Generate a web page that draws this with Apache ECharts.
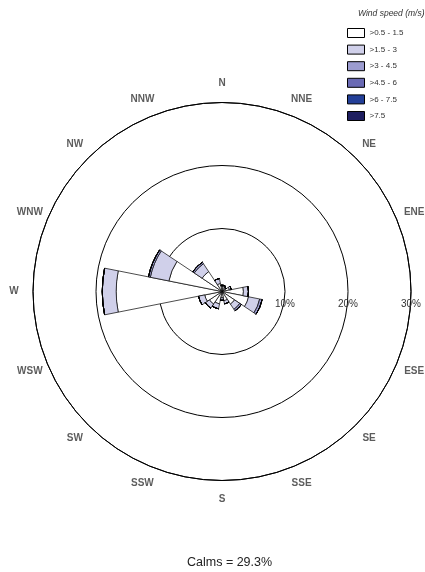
<!DOCTYPE html>
<html>
<head>
<meta charset="utf-8">
<script src="https://cdn.jsdelivr.net/npm/echarts@6/dist/echarts.min.js"></script>
<style>html,body{margin:0;padding:0;background:#fff}#c{width:425px;height:572px}</style>
</head>
<body>
<div id="c"></div>
<script>
const directions = ['N','NNE','NE','ENE','E','ESE','SE','SSE','S','SSW','SW','WSW','W','WNW','NW','NNW'];
const binNames = ['>0.5 - 1.5','>1.5 - 3','>3 - 4.5','>4.5 - 6','>6 - 7.5','>7.5'];
const binColors = ['#ffffff','#d0d0ea','#9c9cd0','#6a6ab4','#233f98','#1e1e60'];
// frequency (%) per direction for each wind-speed bin
const bin1 = [0.8, 0.8, 0.6, 1.2, 3.4, 4.3, 2.4, 1.5, 1.0, 2.0, 2.4, 2.8, 16.8, 8.6, 3.8, 1.3];
const bin2 = [0.2, 0.2, 0.2, 0.3, 0.8, 1.8, 1.0, 0.5, 0.4, 0.8, 0.8, 1.0, 2.2, 3.0, 1.5, 0.8];
const bin3 = [0, 0, 0, 0, 0, 0.4, 0.3, 0, 0, 0, 0, 0, 0, 0.3, 0.3, 0];
const bin4 = [0, 0, 0, 0, 0, 0, 0, 0, 0, 0, 0, 0, 0, 0, 0, 0];
const bin5 = [0, 0, 0, 0, 0, 0, 0, 0, 0, 0, 0, 0, 0, 0, 0, 0];
const bin6 = [0, 0, 0, 0, 0, 0, 0, 0, 0, 0, 0, 0, 0, 0, 0, 0];
const radiusTicks = [0, 10, 20, 30];
const calmsText = 'Calms = 29.3%';
const legendTitle = 'Wind speed (m/s)';

const bins = [bin1, bin2, bin3, bin4, bin5, bin6];
const center = [222, 291.5];
const radius = 189;
const labelRadius = 208;

const chart = echarts.init(document.getElementById('c'), null, {renderer: 'canvas'});
const series = bins.map((d, i) => ({
  type: 'bar',
  name: binNames[i],
  coordinateSystem: 'polar',
  polarIndex: 0,
  stack: 'wind',
  data: d,
  barCategoryGap: '0%',
  itemStyle: {color: binColors[i], borderColor: '#000', borderWidth: 0.7},
  emphasis: {disabled: true},
  animation: false
}));
// direction labels, centred on a ring just outside the outer circle
series.push({
  type: 'scatter',
  name: 'directions',
  coordinateSystem: 'polar',
  polarIndex: 2,
  symbolSize: 0,
  silent: true,
  data: directions.map(d => ({name: d, value: [1, d]})),
  label: {show: true, position: 'inside', formatter: '{b}', align: 'center', verticalAlign: 'middle',
    fontSize: 10, fontWeight: 'bold', color: '#333', fontFamily: 'Liberation Sans'},
  animation: false
});

chart.setOption({
  animation: false,
  backgroundColor: '#fff',
  title: [
    {text: legendTitle, left: 358, top: 9, padding: 0, textStyle: {fontSize: 8.5, fontStyle: 'italic', fontWeight: 'normal', color: '#333', fontFamily: 'Liberation Sans'}},
    {text: calmsText, left: 187, top: 556, padding: 0, textStyle: {fontSize: 12.5, fontWeight: 'normal', color: '#222', fontFamily: 'Liberation Sans'}}
  ],
  legend: {
    orient: 'vertical', left: 347, top: 28, padding: 0,
    itemWidth: 17, itemHeight: 9, itemGap: 6.6,
    icon: 'rect',
    itemStyle: {borderColor: '#000', borderWidth: 1},
    textStyle: {fontSize: 8, lineHeight: 9, color: '#333', fontFamily: 'Liberation Sans'},
    selectedMode: false,
    data: binNames
  },
  polar: [
    {center: center, radius: radius},
    {center: center, radius: radius},
    {center: center, radius: labelRadius}
  ],
  angleAxis: [
    {
      polarIndex: 0, type: 'category', data: directions, startAngle: 101.25, clockwise: true,
      boundaryGap: true,
      axisLine: {show: true, lineStyle: {color: '#000', width: 1}},
      axisTick: {show: false}, splitLine: {show: false}, axisLabel: {show: false}
    },
    {polarIndex: 1, type: 'value', startAngle: 0, min: 0, max: 360, show: false},
    {polarIndex: 2, type: 'category', data: directions, startAngle: 101.25, clockwise: true, boundaryGap: true, show: false}
  ],
  radiusAxis: [
    {
      polarIndex: 0, type: 'value', min: radiusTicks[0], max: radiusTicks[radiusTicks.length - 1], interval: 10,
      axisLine: {show: false}, axisTick: {show: false}, axisLabel: {show: false},
      splitLine: {show: true, lineStyle: {color: '#000', width: 1}}
    },
    {
      polarIndex: 1, type: 'value', min: radiusTicks[0], max: radiusTicks[radiusTicks.length - 1], interval: 10,
      axisLine: {show: false}, axisTick: {show: false}, splitLine: {show: false},
      axisLabel: {show: true, margin: -13, verticalAlign: 'middle', align: 'center', fontSize: 10, color: '#333', fontFamily: 'Liberation Sans',
        formatter: v => v === 0 ? '' : v + '%'}
    },
    {polarIndex: 2, type: 'value', min: 0, max: 1, show: false}
  ],
  series: series
});
</script>
</body>
</html>
